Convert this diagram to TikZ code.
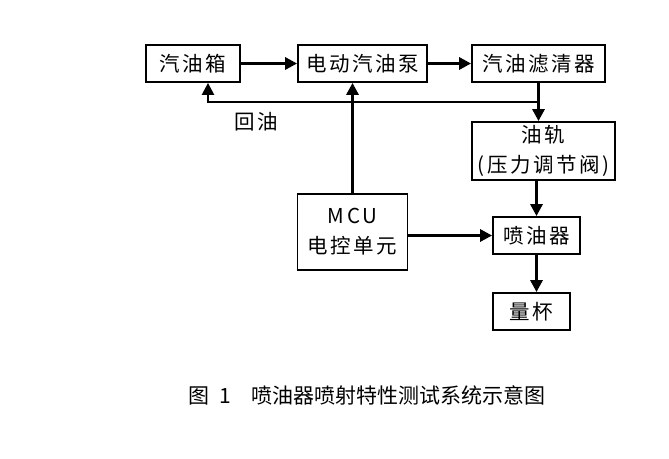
\documentclass[tikz,border=0pt]{standalone}
\usepackage{fontspec}
\newfontfamily\cjk[LetterSpace=12]{Noto Sans CJK SC}
\newfontfamily\cjkcap{Noto Sans CJK SC}
\usetikzlibrary{arrows.meta}

\begin{document}
\begin{tikzpicture}[x=1pt, y=-1pt,
    box/.style={draw, line width=1.8pt, inner sep=0pt, align=center,
        font=\cjk\fontsize{20.5}{30}\selectfont},
    flow/.style={line width=3.2pt, -{Triangle[length=12pt,width=12pt]}},
    back/.style={line width=2.4pt, -{Triangle[length=12pt,width=12pt]}}]
    \def\bh{37}
    \useasboundingbox (0,0) rectangle (669,458);

    % top row
    \node[box, minimum width=94, minimum height=\bh] (tank) at (193,63.5) {汽油箱};
    \node[box, minimum width=129, minimum height=\bh] (pump) at (362.5,63.5) {电动汽油泵};
    \node[box, minimum width=133, minimum height=\bh] (filter) at (538.5,63.5) {汽油滤清器};
    % right column
    \node[box, minimum width=143, minimum height=58] (rail) at (543.5,151) {油轨\\(压力调节阀)};
    \node[box, minimum width=87, minimum height=\bh] (inj) at (536.5,235.5) {喷油器};
    \node[box, minimum width=77, minimum height=\bh] (cup) at (531.5,311.5) {量杯};
    % control unit
    \node[box, minimum width=110, minimum height=76] (mcu) at (352.5,232) {MCU\\电控单元};

    \draw[flow] (tank) -- (pump);
    \draw[flow] (pump) -- (filter);
    \draw[flow] (filter.south) -- (filter.south |- rail.north);
    \draw[flow] (inj.north |- rail.south) -- (inj.north);
    \draw[flow] (inj.south) -- (inj.south |- cup.north);
    \draw[flow] (mcu.north) -- (mcu.north |- pump.south);
    \draw[flow] (inj.west -| mcu.east) -- (inj.west);

    % oil return
    \coordinate (ret) at (538.5,102);
    \coordinate (retc) at (208,102);
    \draw[back] (ret) -- (retc) -- (retc |- tank.south);
    \node[font=\cjk\fontsize{20.5}{22}\selectfont] (retl) at (256,122) {回油};

    \node[font=\cjkcap\fontsize{21}{24}\selectfont, anchor=west] (cap) at (185,395)
        {图\hspace{10pt}1\hspace{20pt}喷油器喷射特性测试系统示意图};
\end{tikzpicture}
\end{document}
